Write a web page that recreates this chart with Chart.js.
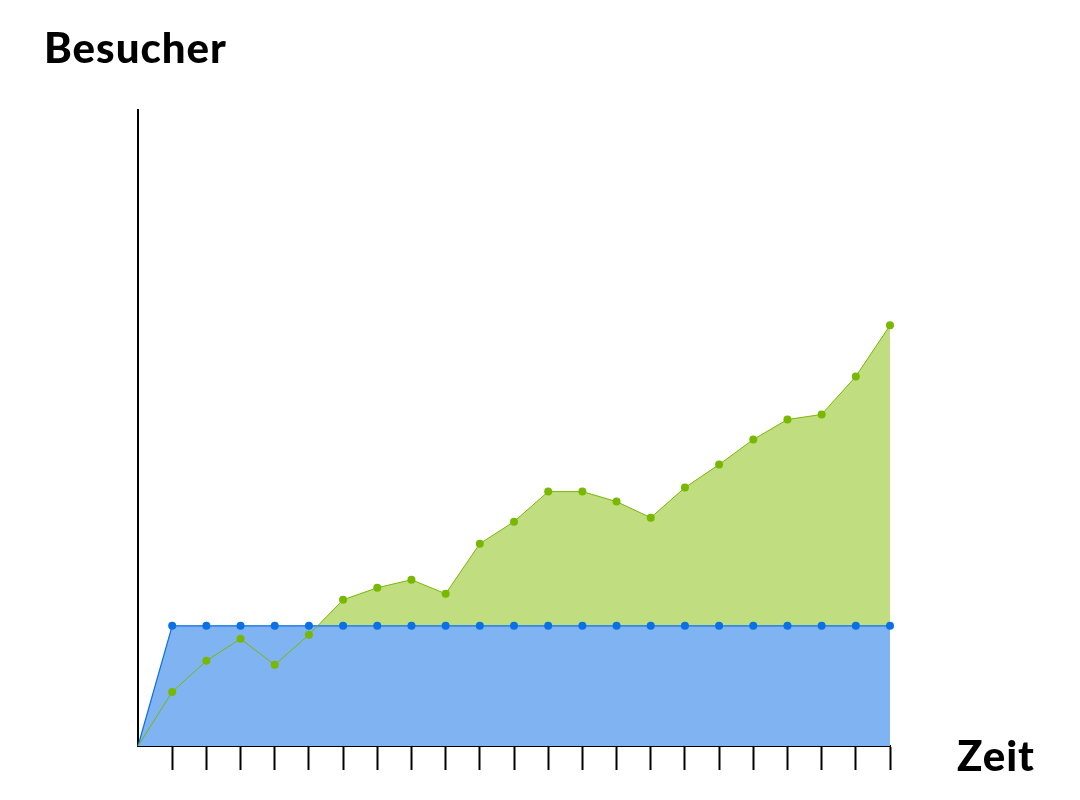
<!DOCTYPE html>
<html>
<head>
<meta charset="utf-8">
<script src="https://cdn.jsdelivr.net/npm/chart.js@4"></script>
<style>
  html, body { margin: 0; padding: 0; background: #fff; }
  #wrap { position: relative; width: 1080px; height: 800px; }
  .lbl { position: absolute; font-family: "Lato", "Noto Sans", sans-serif; font-weight: 900; color: #000; font-size: 42px; letter-spacing: 1px; line-height: 1; }
  #ytitle { left: 44px; top: 26px; }
  #xtitle { left: 957px; top: 734px; }
</style>
</head>
<body>
<div id="wrap">
  <canvas id="chart" width="1080" height="800"></canvas>
  <div class="lbl" id="ytitle">Besucher</div>
  <div class="lbl" id="xtitle">Zeit</div>
</div>
<script>
// Zeitpunkte (keine Beschriftung im Original)
const zeitpunkte = ['0','1','2','3','4','5','6','7','8','9','10','11','12','13','14','15','16','17','18','19','20','21','22'];
// Grüne Reihe
const besucherGruen = [0, 54, 85, 107, 81, 111, 146, 158, 166, 152, 202, 224, 254, 254, 244, 228, 258, 281, 306, 326, 331, 369, 420];
// Blaue Reihe
const besucherBlau = [0, 120, 120, 120, 120, 120, 120, 120, 120, 120, 120, 120, 120, 120, 120, 120, 120, 120, 120, 120, 120, 120, 120];
const yMax = 635;

const pointR = ctx => ctx.dataIndex === 0 ? 0 : 4;

new Chart(document.getElementById('chart'), {
  type: 'line',
  data: {
    labels: zeitpunkte,
    datasets: [
      {
        label: 'Gruen',
        data: besucherGruen,
        borderColor: '#78b800',
        borderWidth: 1,
        pointBackgroundColor: '#78b800',
        pointBorderWidth: 0,
        pointRadius: pointR,
        fill: { target: 1, above: '#c0dd80', below: 'rgba(0,0,0,0)' },
        tension: 0,
        clip: false,
      },
      {
        label: 'Blau',
        data: besucherBlau,
        borderColor: '#0a70e6',
        borderWidth: 1.2,
        pointBackgroundColor: '#0a70e6',
        pointBorderWidth: 0,
        pointRadius: pointR,
        backgroundColor: '#80b3f1',
        fill: 'origin',
        tension: 0,
        clip: false,
      },
    ],
  },
  options: {
    responsive: false,
    animation: false,
    layout: { padding: { left: 130, right: 190, top: 110, bottom: 30 } },
    plugins: {
      legend: { display: false },
      tooltip: { enabled: false },
      filler: { drawTime: 'beforeDatasetsDraw' },
    },
    scales: {
      x: {
        offset: false,
        grid: {
          drawOnChartArea: false,
          drawTicks: true,
          tickLength: 24,
          tickWidth: ctx => ctx.index === 0 ? 0 : 2,
          tickColor: ctx => ctx.index === 0 ? 'rgba(0,0,0,0)' : '#000',
        },
        border: { display: true, color: '#000', width: 2 },
        ticks: { display: false, autoSkip: false },
      },
      y: {
        min: 0,
        max: yMax,
        grid: { display: false },
        border: { display: true, color: '#000', width: 2 },
        ticks: { display: false },
      },
    },
  },
});
</script>
</body>
</html>
